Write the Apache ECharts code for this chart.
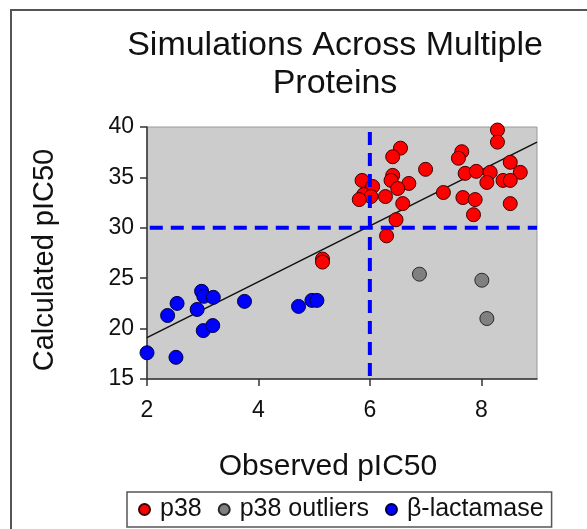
<!DOCTYPE html>
<html>
<head>
<meta charset="utf-8">
<script src="https://cdn.jsdelivr.net/npm/echarts@6/dist/echarts.min.js"></script>
<style>html,body{margin:0;padding:0;background:#fff;}#c{width:587px;height:529px;}</style>
</head>
<body>
<div id="c"></div>
<script>
// ---- data ----
var p38 = [
  [8.29, 39.7], [8.29, 38.5], [6.55, 37.9], [6.41, 37.05], [7.65, 37.55], [7.59, 36.9],
  [8.52, 36.5], [7.0, 35.8], [8.70, 35.5], [7.71, 35.4], [7.91, 35.6], [8.16, 35.5],
  [6.41, 35.2], [6.38, 34.7], [5.86, 34.7], [6.05, 34.1], [6.70, 34.4], [6.50, 33.9],
  [5.89, 33.3], [6.02, 33.1], [5.81, 32.8], [6.28, 33.1], [8.10, 34.5], [8.39, 34.7],
  [8.52, 34.7], [7.32, 33.5], [7.67, 33.0], [7.89, 32.8], [8.52, 32.4], [6.59, 32.4],
  [7.86, 31.3], [6.47, 30.8], [6.30, 29.2], [5.15, 26.9], [5.15, 26.6]
];
var p38Outliers = [[6.89, 25.4], [8.01, 24.8], [8.10, 21.0]];
var betaLactamase = [
  [2.0, 17.6], [2.52, 17.15], [2.37, 21.3], [2.54, 22.5], [2.98, 23.7], [3.02, 23.2],
  [3.19, 23.1], [2.90, 21.9], [3.01, 19.8], [3.18, 20.3], [3.75, 22.7], [4.72, 22.2],
  [4.96, 22.8], [5.05, 22.8]
];
var fitLine = [[2, 19.1], [9, 38.5]];
var refVertical = [[6, 15.3], [6, 40]];
var refHorizontal = [[2.05, 30], [9, 30]];
var xTicks = [2, 4, 6, 8];
var yTicks = [15, 20, 25, 30, 35, 40];
var seriesNames = ['p38', 'p38 outliers', 'β-lactamase'];

var FONT = '"Liberation Sans", Arial, sans-serif';
var chart = echarts.init(document.getElementById('c'), null, {renderer: 'canvas'});
var markerBase = {symbol: 'circle', symbolSize: 14, z: 3};
chart.setOption({
  animation: false,
  backgroundColor: '#ffffff',
  textStyle: {fontFamily: FONT},
  graphic: [{
    type: 'rect', silent: true, z: -10,
    shape: {x: 11, y: 10, width: 640, height: 640},
    style: {fill: 'none', stroke: '#555555', lineWidth: 2}
  }],
  title: {
    text: 'Simulations Across Multiple\nProteins',
    left: 335, top: 27, textAlign: 'center', padding: 0,
    textStyle: {fontFamily: FONT, fontSize: 34, fontWeight: 'normal', color: '#111', lineHeight: 38}
  },
  legend: {
    data: seriesNames,
    left: 127, top: 492,
    orient: 'horizontal',
    icon: 'circle', itemWidth: 11, itemHeight: 11, itemGap: 16,
    padding: [5, 8, 5, 11],
    backgroundColor: '#ffffff', borderColor: '#555555', borderWidth: 1.5,
    textStyle: {fontFamily: FONT, fontSize: 25, color: '#111', padding: [0, 0, 0, 5]}
  },
  grid: {
    left: 147, top: 127, right: 50, bottom: 150,
    show: true, backgroundColor: '#cccccc', borderColor: '#9a9a9a', borderWidth: 1
  },
  xAxis: {
    type: 'value', min: 2, max: 9, interval: 2,
    name: 'Observed pIC50', nameLocation: 'middle', nameGap: 73,
    nameTextStyle: {fontFamily: FONT, fontSize: 30, color: '#111', padding: [0, 28, 0, 0]},
    axisLine: {show: true, onZero: false, lineStyle: {color: '#333', width: 1.5}},
    axisTick: {show: true, inside: false, length: 7, customValues: xTicks, lineStyle: {color: '#333', width: 1.5}},
    axisLabel: {fontFamily: FONT, fontSize: 23, color: '#111', margin: 20, customValues: xTicks},
    splitLine: {show: false}
  },
  yAxis: {
    type: 'value', min: 15, max: 40, interval: 5,
    name: 'Calculated pIC50', nameLocation: 'middle', nameGap: 88,
    nameTextStyle: {fontFamily: FONT, fontSize: 29, color: '#111', padding: [0, 14, 0, 0]},
    axisLine: {show: true, onZero: false, lineStyle: {color: '#333', width: 1.5}},
    axisTick: {show: true, inside: false, length: 7, customValues: yTicks, lineStyle: {color: '#333', width: 1.5}},
    axisLabel: {fontFamily: FONT, fontSize: 23, color: '#111', margin: 13, customValues: yTicks},
    splitLine: {show: false}
  },
  series: [
    {
      type: 'line', data: fitLine, showSymbol: false, symbol: 'none', z: 2, silent: true,
      lineStyle: {color: '#111', width: 1.5}
    },
    Object.assign({}, markerBase, {
      name: seriesNames[0], type: 'scatter', data: p38,
      itemStyle: {color: '#ff0000', borderColor: '#400000', borderWidth: 1, opacity: 1}
    }),
    Object.assign({}, markerBase, {
      name: seriesNames[1], type: 'scatter', data: p38Outliers,
      itemStyle: {color: '#808080', borderColor: '#2a2a2a', borderWidth: 1, opacity: 1}
    }),
    Object.assign({}, markerBase, {
      name: seriesNames[2], type: 'scatter', data: betaLactamase,
      itemStyle: {color: '#0000ff', borderColor: '#000040', borderWidth: 1, opacity: 1}
    }),
    {
      type: 'line', data: refVertical, symbol: 'none', z: 5, silent: true,
      lineStyle: {color: '#0000ff', width: 4, type: [13, 8]}
    },
    {
      type: 'line', data: refHorizontal, symbol: 'none', z: 5, silent: true,
      lineStyle: {color: '#0000ff', width: 4, type: [13, 8]}
    }
  ]
});
</script>
</body>
</html>
